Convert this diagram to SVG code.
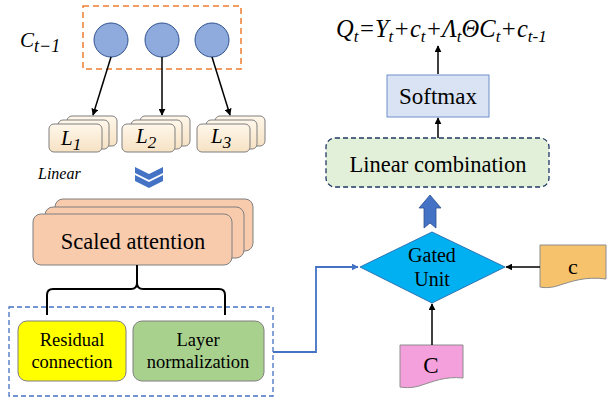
<svg xmlns="http://www.w3.org/2000/svg" width="608" height="398" viewBox="0 0 608 398">
<defs>
<marker id="ah" viewBox="0 0 10 10" refX="9" refY="5" markerWidth="7" markerHeight="7" markerUnits="userSpaceOnUse" orient="auto"><path d="M0,0 L10,5 L0,10 z" fill="#000"/></marker>
<marker id="ahb" viewBox="0 0 10 10" refX="9" refY="5" markerWidth="7" markerHeight="7" markerUnits="userSpaceOnUse" orient="auto"><path d="M0,0 L10,5 L0,10 z" fill="#4472c4"/></marker>
<linearGradient id="lg" x1="0" y1="0" x2="0" y2="1"><stop offset="0" stop-color="#fff7ea"/><stop offset="1" stop-color="#f6e2c4"/></linearGradient>
</defs>
<style>
.t{font-family:'Liberation Serif','DejaVu Serif',serif;fill:#000}
.it{font-style:italic}
.lb{fill:url(#lg);stroke:#7f7f7f;stroke-width:1}
.circ{fill:#8faadc;stroke:#2f528f;stroke-width:1}
.sa{fill:#f8cbad;stroke:#7f7f7f;stroke-width:1}
.ln{stroke:#000;stroke-width:1.5;fill:none}
</style>

<g id="input">
<rect x="83" y="6" width="158" height="63" fill="none" stroke="#ed7d31" stroke-width="1.5" stroke-dasharray="6,4"/>
<circle class="circ" cx="111" cy="40" r="17"/>
<circle class="circ" cx="162" cy="40" r="17"/>
<circle class="circ" cx="212" cy="40" r="17"/>
<text class="t it" x="20" y="47" font-size="21">C<tspan font-size="18" dy="5">t−1</tspan></text>
</g>

<g id="L1">
<rect class="lb" x="67" y="116" width="50" height="30" rx="5"/>
<rect class="lb" x="58" y="120" width="51" height="29" rx="5"/>
<rect class="lb" x="49" y="124" width="53" height="28" rx="5"/>
<text class="t it" x="61" y="145" font-size="21">L<tspan font-size="17" dy="5">1</tspan></text>
</g>
<g id="L2">
<rect class="lb" x="140" y="116" width="50" height="30" rx="5"/>
<rect class="lb" x="131" y="120" width="51" height="29" rx="5"/>
<rect class="lb" x="122" y="124" width="53" height="28" rx="5"/>
<text class="t it" x="136" y="143" font-size="21">L<tspan font-size="17" dy="5">2</tspan></text>
</g>
<g id="L3">
<rect class="lb" x="215" y="116" width="50" height="30" rx="5"/>
<rect class="lb" x="206" y="120" width="51" height="29" rx="5"/>
<rect class="lb" x="197" y="124" width="53" height="28" rx="5"/>
<text class="t it" x="211" y="143" font-size="21">L<tspan font-size="17" dy="5">3</tspan></text>
</g>

<g id="linear-label">
<text class="t it" x="38" y="179" font-size="16">Linear</text>
<path d="M135,167 L149,174 L163,167 L163,173 L149,180 L135,173 z" fill="#4472c4"/>
<path d="M135,175 L149,182 L163,175 L163,181 L149,188 L135,181 z" fill="#4472c4"/>
</g>

<g id="scaled-attention">
<rect class="sa" x="55" y="199" width="198" height="52" rx="8"/>
<rect class="sa" x="45" y="207" width="199" height="51" rx="8"/>
<rect class="sa" x="33" y="214" width="199" height="51" rx="8"/>
<text class="t" x="133" y="249" font-size="22.5" text-anchor="middle">Scaled attention</text>
</g>

<g id="norm-group">
<rect x="9" y="307" width="264" height="89" fill="none" stroke="#4472c4" stroke-width="1.3" stroke-dasharray="5,3"/>
<rect x="18" y="321" width="108" height="60" rx="9" fill="#ffff00" stroke="#7f7f7f"/>
<text class="t" x="72" y="346" font-size="18.5" text-anchor="middle">Residual</text>
<text class="t" x="72" y="368" font-size="18.5" text-anchor="middle">connection</text>
<rect x="133" y="321" width="131" height="60" rx="9" fill="#a9d18e" stroke="#7f7f7f"/>
<text class="t" x="198" y="346" font-size="18.5" text-anchor="middle">Layer</text>
<text class="t" x="198" y="368" font-size="18.5" text-anchor="middle">normalization</text>
</g>

<g id="gated-unit">
<path d="M432,232 L505,267 L432,303 L360,267 z" fill="#00b0f0" stroke="#2e75b6" stroke-width="1"/>
<text class="t" x="432" y="262" font-size="20" text-anchor="middle">Gated</text>
<text class="t" x="432" y="286" font-size="20" text-anchor="middle">Unit</text>
</g>

<g id="c-small">
<path d="M540,245 L606,245 L606,279 C585,276 570,282 560,285 C552,288 545,288 540,287 z" fill="#f6c26b" stroke="#8c8c8c" stroke-width="1"/>
<text class="t" x="573" y="274" font-size="22" text-anchor="middle">c</text>
</g>

<g id="C-big">
<path d="M400,345 L463,345 L463,378 C445,376 432,382 422,385 C414,388 406,388 400,387 z" fill="#f4a0dc" stroke="#8c8c8c" stroke-width="1"/>
<text class="t" x="431" y="373" font-size="23" text-anchor="middle">C</text>
</g>

<g id="linear-combination">
<rect x="326" y="138" width="223" height="49" rx="9" fill="#e2f0d9" stroke="#1f3864" stroke-width="1.3" stroke-dasharray="5,3"/>
<text class="t" x="438" y="172" font-size="22.5" text-anchor="middle">Linear combination</text>
</g>

<g id="softmax">
<rect x="387" y="75" width="102" height="42" fill="#dae3f3" stroke="#6f8fc9" stroke-width="1"/>
<text class="t" x="438" y="104" font-size="23" text-anchor="middle">Softmax</text>
</g>

<g id="formula">
<text class="t it" x="336" y="37" font-size="24.5">Q<tspan font-size="17" dy="5">t</tspan><tspan dy="-5">=Y</tspan><tspan font-size="17" dy="5">t</tspan><tspan dy="-5">+c</tspan><tspan font-size="17" dy="5">t</tspan><tspan dy="-5">+Λ</tspan><tspan font-size="17" dy="5">t</tspan><tspan dy="-5">ΘC</tspan><tspan font-size="17" dy="5">t</tspan><tspan dy="-5">+c</tspan><tspan font-size="17" dy="5">t-1</tspan></text>
</g>

<g id="connectors">
<line class="ln" x1="111" y1="57" x2="93" y2="115" marker-end="url(#ah)"/>
<line class="ln" x1="162" y1="57" x2="162" y2="115" marker-end="url(#ah)"/>
<line class="ln" x1="212" y1="57" x2="230" y2="115" marker-end="url(#ah)"/>
<path d="M137,265 L137,283 Q137,289 131,289 L53,289 Q47,289 47,295 L47,315" fill="none" stroke="#000" stroke-width="2"/>
<path d="M137,265 L137,283 Q137,289 143,289 L219,289 Q225,289 225,295 L225,315" fill="none" stroke="#000" stroke-width="2"/>
<path d="M273,352 L316,352 L316,267 L358,267" fill="none" stroke="#4472c4" stroke-width="1.8" marker-end="url(#ahb)"/>
<line class="ln" x1="540" y1="267" x2="506" y2="267" marker-end="url(#ah)"/>
<line class="ln" x1="432" y1="345" x2="432" y2="304" marker-end="url(#ah)"/>
<path d="M430,195 L441,208 L436,208 L436,228 L430,223 L424,228 L424,208 L419,208 z" fill="#4472c4" stroke="#2f528f" stroke-width="0.8"/>
<line class="ln" x1="438" y1="138" x2="438" y2="118" marker-end="url(#ah)"/>
<line class="ln" x1="438" y1="74" x2="438" y2="46" marker-end="url(#ah)"/>
</g>
</svg>
